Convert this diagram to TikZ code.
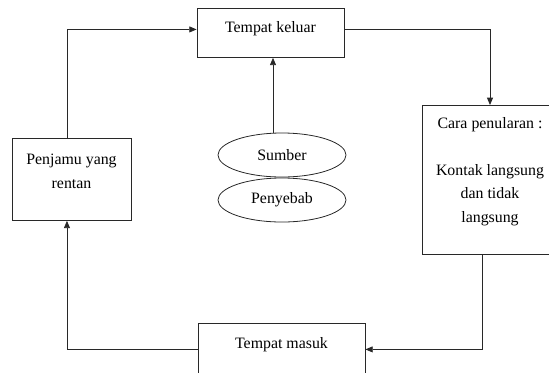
\documentclass[tikz,border=0pt]{standalone}
\usepackage{fontspec}
\setmainfont{Liberation Serif}
\usetikzlibrary{arrows.meta, shapes.geometric}
\definecolor{lineblack}{RGB}{40, 40, 40}

\tikzset{
  box/.style={draw=lineblack, line width=0.6pt, rectangle, inner sep=0pt,
    align=center, anchor=north},
  oval/.style={draw=lineblack, line width=0.6pt, ellipse, inner sep=0pt,
    minimum width=96pt, minimum height=33pt},
  arr/.style={draw=lineblack, line width=0.6pt,
    -{Triangle[length=5.5pt, width=4.5pt]}}
}

\begin{document}
\begin{tikzpicture}[x=0.75pt, y=-0.75pt, font=\fontsize{11.9}{17.6}\selectfont]
    \useasboundingbox (0,0) rectangle (549,372);
    \clip (0,0) rectangle (549,372);

    \node[box, minimum width=110.25pt, text height=18pt, text depth=18.75pt]
        (keluar) at (270.5,8) {Tempat keluar};
    \node[box, minimum width=89.25pt, text height=37.5pt, text depth=24pt]
        (penjamu) at (71.5,138) {Penjamu yang\\rentan};
    \node[box, minimum width=102pt, text height=87.75pt, text depth=24pt]
        (cara) at (490,105)
        {Cara penularan :\\[17.6pt]Kontak langsung\\dan tidak\\langsung};
    \node[box, minimum width=125.25pt, text height=18.75pt, text depth=20.25pt]
        (masuk) at (281.5,323) {Tempat masuk};

    \node[oval] (sumber) at (282,155) {Sumber};
    \node[oval] (penyebab) at (282,200) {Penyebab};

    \coordinate (src) at ([xshift=-6.75pt]sumber.north);
    \draw[arr] (src) -- (src |- keluar.south);

    \draw[arr] ([xshift=-3.4pt]penjamu.north) |- ([yshift=2.6pt]keluar.west);
    \draw[arr] ([yshift=2.6pt]keluar.east) -| (cara.north);
    \draw[arr] ([xshift=-6pt]cara.south) |- (masuk.east);
    \draw[arr] (masuk.west) -| ([xshift=-3.4pt]penjamu.south);

\end{tikzpicture}
\end{document}
